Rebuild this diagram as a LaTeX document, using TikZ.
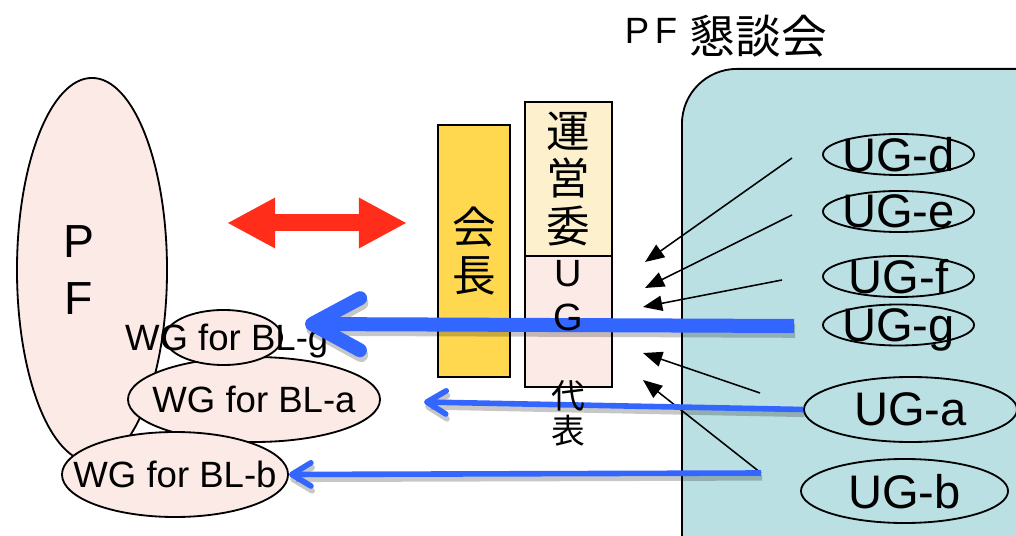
\documentclass[tikz,border=0pt]{standalone}
\usepackage{fontspec}
\setmainfont{Liberation Sans}
\newfontfamily\cjk{Noto Sans CJK JP}
\usetikzlibrary{arrows.meta,shapes.geometric}
\definecolor{pfpink}{HTML}{FBEAE6}
\definecolor{kaichogold}{HTML}{FFD84F}
\definecolor{uneicream}{HTML}{FDF0CD}
\definecolor{pfkblue}{HTML}{BAE0E4}
\definecolor{arrowred}{HTML}{FF2D1A}
\definecolor{ugblue}{HTML}{3366FF}

\begin{document}
\begin{tikzpicture}[x=0.025cm,y=-0.025cm,>={Triangle[length=0.48cm,width=0.38cm]},
 box/.style={draw,line width=1.8pt,inner sep=0pt,align=center},
 oval/.style={draw,ellipse,line width=1.3pt,inner sep=0pt},
 wgtext/.style={font=\fontsize{26}{30}\selectfont,text depth=0pt},
 ugtext/.style={font=\fontsize{33.5}{38}\selectfont,text depth=0pt},
 jbig/.style={font=\cjk\fontsize{31}{33.5}\selectfont},
 ptr/.style={->,line width=1.1pt},
 dropline/.style={draw=black,draw opacity=0.22,transform canvas={shift={(0.03cm,-0.12cm)}}},
 thickblue/.style={draw=ugblue,line width=0.35cm,
  -{Straight Barb[round,length=1.2cm,width=1.3cm]}},
 thinblue/.style={draw=ugblue,line width=0.14cm,
  -{Straight Barb[round,length=0.48cm,width=0.58cm]}}]
\useasboundingbox (0,0) rectangle (1016,536);
\node[draw,fill=pfkblue,line width=1.3pt,rounded corners=1.375cm,anchor=north west,
 minimum width=10cm,minimum height=13.5cm] (pfk) at (681,68) {};
\node[font=\fontsize{26}{30}\selectfont] (pfktitle) at (726,36)
 {\raisebox{7pt}{P\hspace{4pt}F}\hspace{9pt}{\cjk\fontsize{32.5}{36}\selectfont 懇談会}};
\node[oval,fill=pfpink,minimum width=3.75cm,minimum height=9.6cm,
 label={[align=center,xshift=-0.33cm,font=\fontsize{33}{40.5}\selectfont]center:P\\F}] (pf) at (92,270) {};
\node[oval,fill=pfpink,minimum width=6.3cm,minimum height=2.125cm,
 label={[wgtext]center:WG for BL-a}] (wga) at (254,399.5) {};
\node[oval,fill=pfpink,minimum width=5.65cm,minimum height=2.125cm,
 label={[wgtext]center:WG for BL-b}] (wgb) at (175,474.5) {};
\node[oval,fill=pfpink,minimum width=2.925cm,minimum height=1.375cm,
 label={[wgtext,xshift=0.08cm]center:WG for BL-g}] (wgg) at (223.5,337.5) {};
\node[box,jbig,fill=kaichogold,minimum width=1.8cm,minimum height=6.3cm] (kaicho) at (474,251) {会\\長};
\node[box,jbig,fill=uneicream,minimum width=2.175cm,minimum height=3.85cm] (unei) at (568.5,179) {運\\営\\委};
\node[box,fill=pfpink,minimum width=2.175cm,minimum height=3.275cm] (ugbox) at (568.5,321.5) {};
\node[oval,minimum width=3.775cm,minimum height=1.025cm,label={[ugtext]center:UG-d}] (ugd) at (898.5,154.5) {};
\node[oval,minimum width=3.775cm,minimum height=1.025cm,label={[ugtext]center:UG-e}] (uge) at (898.5,211.5) {};
\node[oval,minimum width=3.775cm,minimum height=1.025cm,label={[ugtext]center:UG-f}] (ugf) at (898.5,276.5) {};
\node[oval,minimum width=3.775cm,minimum height=1.025cm,label={[ugtext]center:UG-g}] (ugg) at (898.5,325) {};
\node[oval,minimum width=5.325cm,minimum height=1.625cm,label={[ugtext]center:UG-a}] (uga) at (910.5,409.5) {};
\node[oval,minimum width=5.175cm,minimum height=1.6cm,label={[ugtext]center:UG-b}] (ugb) at (904.5,491) {};
\coordinate (fromd) at (792,158); \coordinate (tod) at (645,262);
\coordinate (frome) at (792,215); \coordinate (toe) at (645,288);
\coordinate (fromf) at (782,280); \coordinate (tof) at (643,307);
\coordinate (froma) at (760,393); \coordinate (toa) at (643,353);
\coordinate (fromb) at (761,473); \coordinate (tob) at (643,380);
\draw[ptr] (fromd)--(tod);
\draw[ptr] (frome)--(toe);
\draw[ptr] (fromf)--(tof);
\draw[ptr] (froma)--(toa);
\draw[ptr] (fromb)--(tob);
\coordinate (redL) at (227,223); \coordinate (redR) at (407,223);
\draw[arrowred,line width=0.425cm,{Triangle[length=1.2cm,width=1.175cm]}-{Triangle[length=1.2cm,width=1.175cm]}] (redL)--(redR);
\coordinate (gfrom) at (794,326); \coordinate (gto) at (305,324);
\coordinate (ato) at (424,402);
\draw[thickblue,dropline] (gfrom)--(gto);
\draw[thinblue,dropline] (uga.west)--(ato);
\draw[thinblue,dropline] (fromb)--(wgb.east);
\draw[thickblue] (gfrom)--(gto);
\draw[thinblue] (uga.west)--(ato);
\draw[thinblue] (fromb)--(wgb.east);
\node[align=center,inner sep=0pt,anchor=north,font=\fontsize{27}{31.5}\selectfont] (ugrep) at (568,260)
 {U\\G\\[23.5pt]{\cjk\fontsize{24}{31.5}\selectfont 代}\\[-6pt]{\cjk\fontsize{24}{31.5}\selectfont 表}};
\end{tikzpicture}
\end{document}
